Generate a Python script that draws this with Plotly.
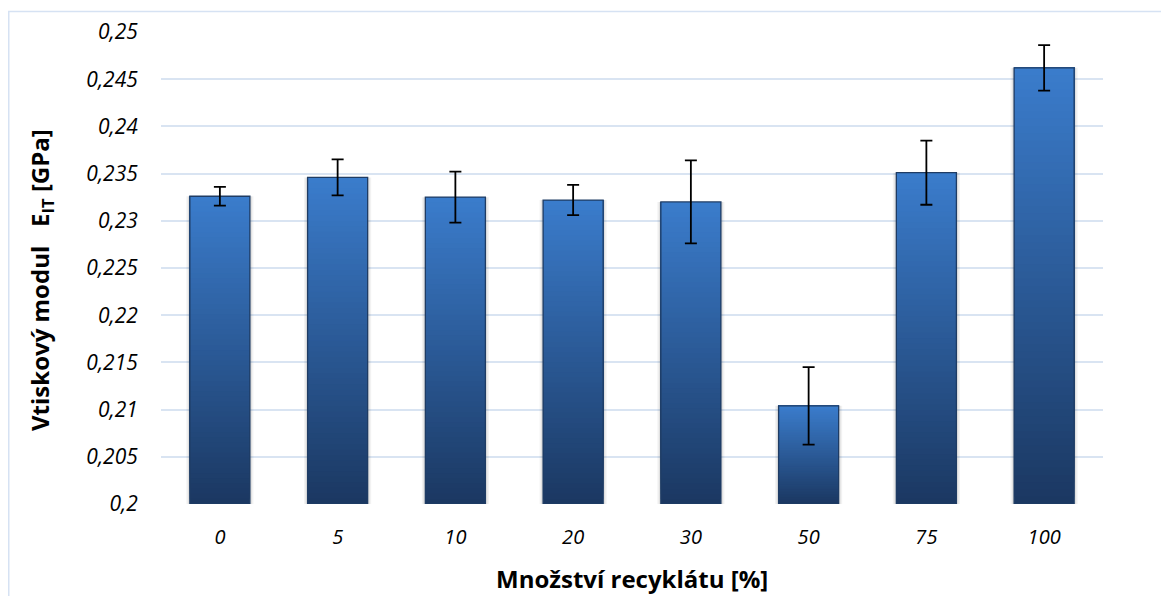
import plotly.graph_objects as go

categories = ["0", "5", "10", "20", "30", "50", "75", "100"]
values = [0.2326, 0.2346, 0.2325, 0.2322, 0.2320, 0.2104, 0.2351, 0.2462]
errors = [0.0010, 0.0019, 0.0027, 0.0016, 0.0044, 0.0041, 0.0034, 0.0024]
y_tickvals = [0.2, 0.205, 0.21, 0.215, 0.22, 0.225, 0.23, 0.235, 0.24, 0.245, 0.25]
y_ticktext = ["0,2", "0,205", "0,21", "0,215", "0,22", "0,225", "0,23", "0,235", "0,24", "0,245", "0,25"]
y_base = 0.2

top_rgb = (59, 125, 205)
bot_rgb = (27, 56, 98)
N = 60
BW = 0.51

fig = go.Figure()
# soft shadow behind bars
for sw, op in [(BW + 0.06, 0.05), (BW + 0.035, 0.07)]:
    fig.add_trace(go.Bar(
        x=categories, y=[v - y_base for v in values], base=[y_base] * len(values), width=sw,
        marker=dict(color="rgba(0,0,0,%.2f)" % op, line=dict(width=0)),
        showlegend=False, hoverinfo="skip",
    ))

for i in range(N):
    f = i / N
    c = tuple(int(round(bot_rgb[k] + (top_rgb[k] - bot_rgb[k]) * f)) for k in range(3))
    bases = [y_base + (v - y_base) * f for v in values]
    heights = [v - b for v, b in zip(values, bases)]
    fig.add_trace(go.Bar(
        x=categories, y=heights, base=bases, width=BW,
        marker=dict(color="rgb(%d,%d,%d)" % c, line=dict(width=0)),
        showlegend=False, hoverinfo="skip",
    ))

fig.add_trace(go.Bar(
    x=categories, y=[v - y_base for v in values], base=[y_base] * len(values), width=BW,
    marker=dict(color="rgba(0,0,0,0)", line=dict(color="#1F3C64", width=1.3)),
    error_y=dict(type="data", array=errors, visible=True, color="black", thickness=1.8, width=6),
    showlegend=False,
))

W, H = 1161, 588
PL, PR, PT, PB = 153, 1095, 24, 496
pw, ph = PR - PL, PB - PT

fig.update_layout(
    width=W, height=H,
    margin=dict(l=PL, r=W - PR, t=PT, b=H - PB),
    barmode="overlay",
    plot_bgcolor="white", paper_bgcolor="white",
    font=dict(family="Open Sans, Liberation Sans, sans-serif", color="black"),
    xaxis=dict(
        type="category", showgrid=False, zeroline=False, showline=False,
        ticks="outside", ticklen=15, tickcolor="rgba(0,0,0,0)", automargin=False,
        tickfont=dict(size=20, family="Open Sans", color="black", style="italic"),
    ),
    yaxis=dict(
        range=[0.2, 0.25], tickvals=y_tickvals, ticktext=y_ticktext,
        showgrid=True, gridcolor="#D9E4F2", gridwidth=1.5, zeroline=False, showline=False,
        ticks="outside", ticklen=18, tickcolor="rgba(0,0,0,0)", automargin=False,
        tickfont=dict(size=21, family="Open Sans", color="black", style="italic"),
    ),
    annotations=[
        dict(text="<b>Množství recyklátu [%]</b>", xref="paper", yref="paper",
             x=0.5, y=-(570 - PB) / ph, xanchor="center", yanchor="middle",
             showarrow=False, font=dict(size=24, family="Open Sans", color="black")),
        dict(text="<b>Vtiskový modul   E<sub>IT</sub> [GPa]</b>", xref="paper", yref="paper",
             x=-(PL - 33) / pw, y=(PB - 272) / ph, xanchor="center", yanchor="middle", textangle=-90,
             showarrow=False, font=dict(size=24, family="Open Sans", color="black")),
    ],
    shapes=[dict(type="rect", xref="paper", yref="paper",
                 x0=-(PL - 0.75) / pw, x1=1.2, y0=-0.5, y1=(PB - 3.5) / ph,
                 line=dict(color="#D6E2F3", width=1.5), fillcolor="rgba(0,0,0,0)", layer="below")],
)

fig.write_html("out.html")
